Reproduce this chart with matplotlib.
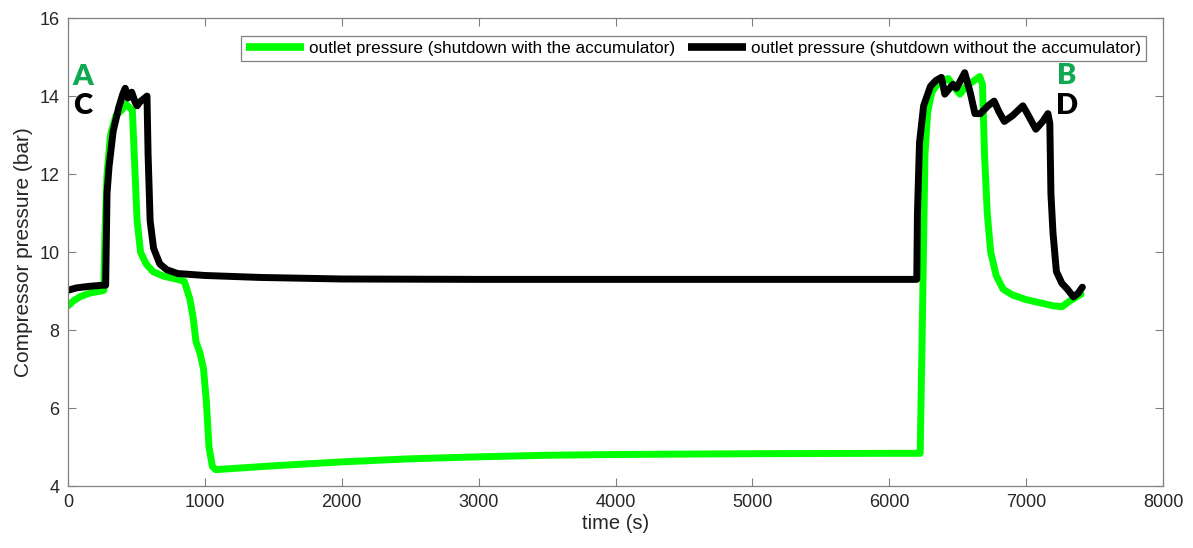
import matplotlib
matplotlib.use("Agg")
import matplotlib.pyplot as plt

# outlet pressure, shutdown with the accumulator (green)
t_with = [0, 40, 90, 160, 240, 262, 270, 285, 310, 350, 395, 420, 450, 470, 490, 505,
          530, 570, 620, 700, 800, 850, 890, 915, 935, 965, 990, 1010, 1030, 1055, 1080,
          1200, 1500, 2000, 2500, 3000, 3500, 4000, 5000, 6000, 6225, 6240, 6260, 6280,
          6310, 6360, 6430, 6480, 6515, 6560, 6600, 6660, 6680, 6695, 6715, 6740, 6780,
          6830, 6900, 7000, 7100, 7200, 7260, 7320, 7400]
p_with = [8.62, 8.75, 8.86, 8.95, 9.0, 9.02, 10.5, 12.0, 13.0, 13.5, 13.65, 13.8, 13.7,
          13.65, 12.0, 10.8, 10.0, 9.7, 9.5, 9.38, 9.3, 9.25, 8.8, 8.3, 7.7, 7.4, 7.0, 6.2,
          5.0, 4.5, 4.42, 4.45, 4.52, 4.62, 4.7, 4.75, 4.79, 4.81, 4.83, 4.84, 4.84, 8.0,
          12.5, 13.6, 14.1, 14.35, 14.45, 14.2, 14.05, 14.25, 14.35, 14.5, 14.3, 12.5, 11.0,
          10.0, 9.4, 9.05, 8.9, 8.78, 8.7, 8.62, 8.6, 8.75, 8.92]

# outlet pressure, shutdown without the accumulator (black)
t_without = [0, 60, 150, 250, 275, 285, 300, 330, 370, 400, 418, 438, 465, 490, 505, 525,
             560, 577, 585, 600, 625, 670, 720, 800, 1000, 1400, 2000, 3000, 4000, 5000,
             6200, 6205, 6220, 6250, 6300, 6340, 6380, 6405, 6440, 6465, 6490, 6550, 6590,
             6625, 6665, 6720, 6765, 6800, 6840, 6900, 6975, 7000, 7070, 7120, 7158, 7172,
             7180, 7195, 7220, 7260, 7300, 7345, 7380, 7410]
p_without = [9.02, 9.08, 9.12, 9.15, 9.15, 11.5, 12.2, 13.1, 13.7, 14.05, 14.2, 13.95, 14.1,
             13.85, 13.75, 13.85, 13.95, 14.0, 12.5, 10.8, 10.1, 9.7, 9.55, 9.45, 9.4, 9.35,
             9.31, 9.3, 9.3, 9.3, 9.3, 11.0, 12.8, 13.75, 14.25, 14.4, 14.48, 14.05, 14.2,
             14.3, 14.2, 14.6, 14.1, 13.55, 13.55, 13.75, 13.87, 13.6, 13.35, 13.5, 13.75,
             13.6, 13.15, 13.35, 13.55, 13.3, 11.5, 10.5, 9.5, 9.2, 9.05, 8.85, 8.95, 9.1]

labels = ["outlet pressure (shutdown with the accumulator)",
          "outlet pressure (shutdown without the accumulator)"]
x_ticks = [0, 1000, 2000, 3000, 4000, 5000, 6000, 7000, 8000]
y_ticks = [4, 6, 8, 10, 12, 14, 16]

plt.rcParams['font.family'] = ['Liberation Sans', 'DejaVu Sans']

fig = plt.figure(figsize=(11.93, 5.48), dpi=100)
ax = fig.add_axes([0.057, 0.113, 0.918, 0.854])

ax.plot(t_with, p_with, color='#00ff00', lw=5, solid_joinstyle='round',
        solid_capstyle='round', label=labels[0])
ax.plot(t_without, p_without, color='black', lw=5, solid_joinstyle='round',
        solid_capstyle='round', label=labels[1])

ax.set_xlim(0, 8000)
ax.set_ylim(4, 16)
ax.set_xticks(x_ticks)
ax.set_yticks(y_ticks)
ax.tick_params(direction='in', length=6, width=0.8, colors='#808080',
               labelcolor='#262626', labelsize=13, top=True, right=True, pad=6)
for s in ax.spines.values():
    s.set_color('#808080')
    s.set_linewidth(0.9)

ax.set_xlabel('time (s)', fontsize=14.5, color='#262626', labelpad=2)
ax.set_ylabel('Compressor pressure (bar)', fontsize=15, color='#262626', labelpad=5)

leg = ax.legend(loc='upper right', bbox_to_anchor=(0.9845, 0.962), borderaxespad=0,
                ncol=2, fontsize=12.3, handlelength=3.4, columnspacing=0.75,
                handletextpad=0.3, fancybox=False, framealpha=1, borderpad=0.3)
leg.get_frame().set_edgecolor('#808080')
leg.get_frame().set_linewidth(0.9)
for line in leg.get_lines():
    line.set_solid_capstyle('butt')
    line.set_linewidth(5.5)

ann_font = dict(family=['Lato', 'DejaVu Sans'], fontweight='heavy', fontsize=21,
                ha='center', va='center')
ax.text(110, 14.49, 'A', color='#10a850', **ann_font)
ax.text(110, 13.74, 'C', color='black', **ann_font)
ax.text(7297, 14.51, 'B', color='#10a850', **ann_font)
ax.text(7297, 13.74, 'D', color='black', **ann_font)

fig.savefig('out.png', dpi=100)
